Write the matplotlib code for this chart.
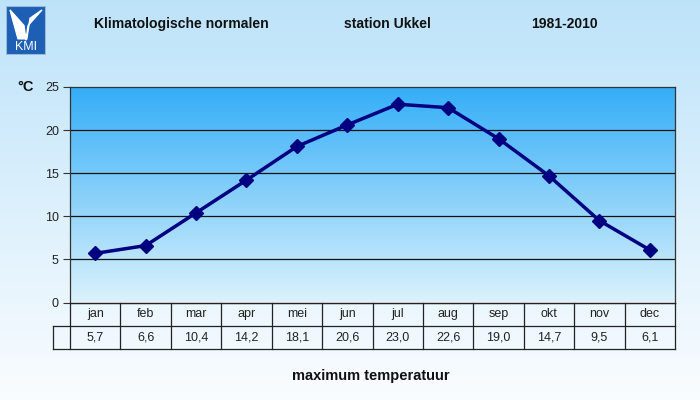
import numpy as np
import matplotlib
matplotlib.use("Agg")
import matplotlib.pyplot as plt
from matplotlib.patches import Rectangle

months = ["jan", "feb", "mar", "apr", "mei", "jun", "jul", "aug", "sep", "okt", "nov", "dec"]
values = [5.7, 6.6, 10.4, 14.2, 18.1, 20.6, 23.0, 22.6, 19.0, 14.7, 9.5, 6.1]
yticks = [0, 5, 10, 15, 20, 25]

plt.rcParams['font.family'] = ['Liberation Sans', 'DejaVu Sans']

W, H = 700, 400
fig = plt.figure(figsize=(7, 4), dpi=100)

# figure background gradient
bg = fig.add_axes([0, 0, 1, 1], zorder=-10)
bg.axis('off')
g = np.linspace(0, 1, 256)[:, None]
top = np.array([0.74, 0.89, 0.98])
bot = np.array([0.98, 0.99, 1.0])
img = top[None, None, :] * (1 - g[..., None]) + bot[None, None, :] * g[..., None]
img = np.repeat(img, 2, axis=1)
bg.imshow(img, aspect='auto', extent=[0, 1, 0, 1], origin='upper')
bg.set_xlim(0, 1); bg.set_ylim(0, 1)

def fx(px): return px / W
def fy(py): return 1 - py / H

# logo
logo = fig.add_axes([fx(6), fy(55), fx(40), 49 / H])
logo.set_xlim(0, 1); logo.set_ylim(0, 1)
logo.axis('off')
logo.add_patch(Rectangle((0, 0), 1, 1, facecolor='#1c5fb4', edgecolor='#9ab8dc', lw=1.5))
logo.text(0.5, 0.16, "KMI", color='white', ha='center', va='center', fontsize=9)
logo.fill([0.1, 0.45, 0.5, 0.55, 0.9, 0.6, 0.52, 0.3], [0.92, 0.6, 0.3, 0.6, 0.92, 0.75, 0.33, 0.33], color='white')

# titles
tc = '#111111'
fig.text(fx(94), fy(24), "Klimatologische normalen", fontsize=10.1, fontweight='bold', va='center', ha='left', color=tc)
fig.text(fx(344), fy(24), "station Ukkel", fontsize=10.1, fontweight='bold', va='center', ha='left', color=tc)
fig.text(fx(531), fy(24), "1981-2010", fontsize=10.1, fontweight='bold', va='center', ha='left', color=tc)
fig.text(fx(17), fy(87), "°C", fontsize=10.5, fontweight='bold', va='center', ha='left', color=tc)
fig.text(fx(371), fy(376), "maximum temperatuur", fontsize=10.5, fontweight='bold', va='center', ha='center', color=tc)

# main axes
L, R, T, B = 70, 675, 87, 302.5
ax = fig.add_axes([fx(L), fy(B), (R - L) / W, (B - T) / H])
x = np.arange(len(months))
ax.set_xlim(-0.5, len(months) - 0.5)
ax.set_ylim(0, 25)
grad = np.linspace(0, 1, 256)[:, None]
ptop = np.array([0.20, 0.68, 0.97])
pbot = np.array([0.86, 0.95, 0.99])
pimg = ptop[None, None, :] * (1 - grad[..., None]) + pbot[None, None, :] * grad[..., None]
pimg = np.repeat(pimg, 2, axis=1)
ax.imshow(pimg, aspect='auto', extent=[-0.5, len(months) - 0.5, 0, 25], origin='upper', zorder=0)
for yt in yticks[1:-1]:
    ax.axhline(yt, color='#111111', lw=0.9, zorder=1)
ax.plot(x, values, color='#000080', lw=2.5, marker='D', markersize=7, zorder=3)
ax.set_yticks(yticks)
ax.set_yticklabels([str(v) for v in yticks], fontsize=9, color='#222222')
ax.tick_params(axis='y', length=5, width=0.8, color='#333333', pad=3)
ax.set_xticks([])
for s in ax.spines.values():
    s.set_color('#333333'); s.set_linewidth(0.9)

# table
cellw = (R - L) / len(months)
TL = 53
tb = 349
tax = fig.add_axes([fx(TL), fy(tb), (R - TL) / W, (tb - B) / H])
tax.set_xlim(-0.5 - (L - TL) / cellw, len(months) - 0.5)
tax.set_ylim(0, 2)
tax.axis('off')
lc = '#222222'
tax.plot([-0.5, len(months) - 0.5], [2, 2], color=lc, lw=0.9, clip_on=False)
tax.plot([-0.5 - (L - TL) / cellw, len(months) - 0.5], [1, 1], color=lc, lw=0.9, clip_on=False)
tax.plot([-0.5 - (L - TL) / cellw, len(months) - 0.5], [0, 0], color=lc, lw=0.9, clip_on=False)
tax.plot([-0.5 - (L - TL) / cellw] * 2, [0, 1], color=lc, lw=0.9, clip_on=False)
for i in range(len(months) + 1):
    tax.plot([i - 0.5, i - 0.5], [0, 2], color=lc, lw=0.9, clip_on=False)
for i, (m, v) in enumerate(zip(months, values)):
    tax.text(i, 1.5, m, ha='center', va='center', fontsize=9, color='#222222')
    tax.text(i, 0.5, f"{v:.1f}".replace('.', ','), ha='center', va='center', fontsize=9, color='#222222')

fig.savefig("out.png", dpi=100)
